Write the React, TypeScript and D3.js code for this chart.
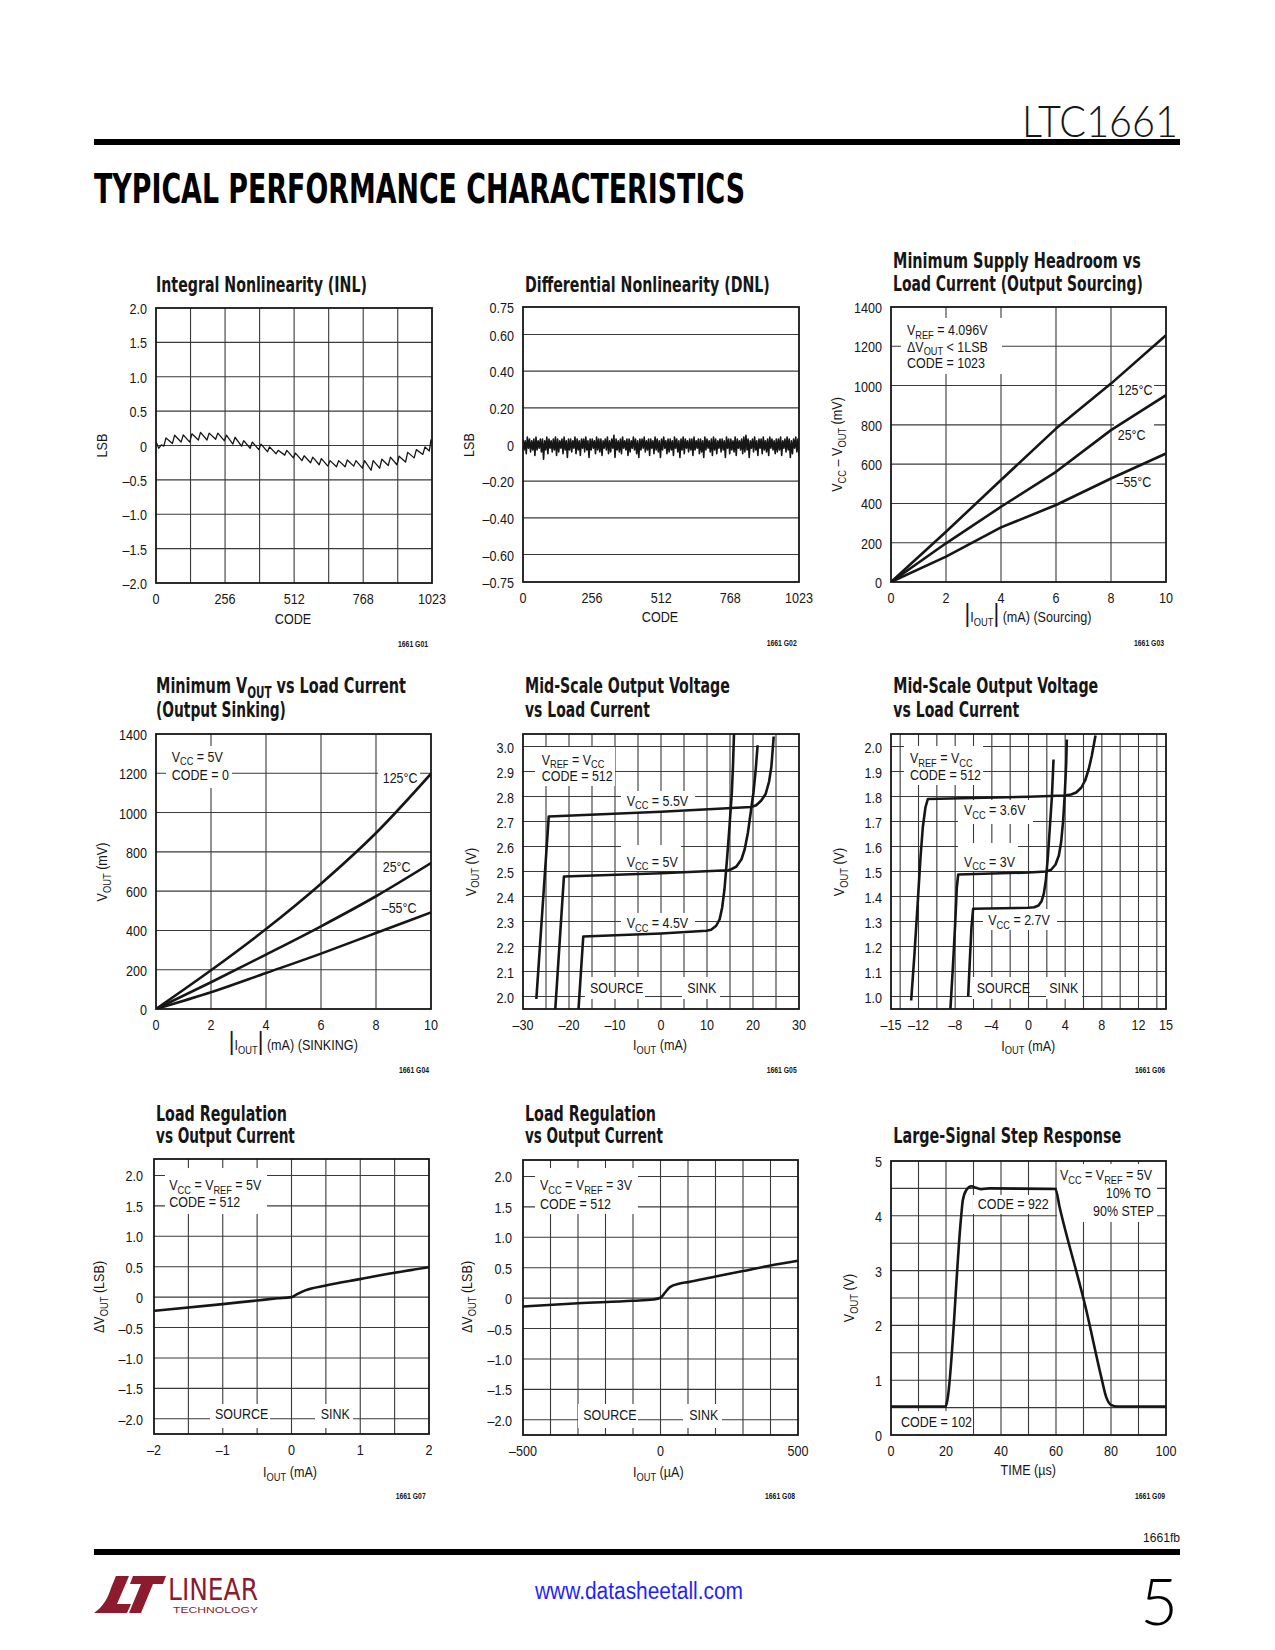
import React from "react";
import * as d3 from "d3";

const FONT = "'Liberation Sans',Arial,sans-serif";
const TITLE_FONT = "'Liberation Sans Narrow','DejaVu Sans Condensed','Liberation Sans',sans-serif";
const INK = "#161616";
const GRID = "#3a3a3a";
const LOGO = "#8c1b2e";
const SX_TICK = 0.84;
const SX_NOTE = 0.86;

type Pt = [number, number];

// ---------------- DATA ----------------
// G01 INL
const inlCode = [0,4,10,20,29,37,61,69,93,101,125,133,157,165,189,197,221,229,253,261,285,293,317,325,349,357,381,389,413,421,445,453,477,485,509,517,541,549,573,581,605,613,637,645,669,677,701,709,733,741,765,773,797,805,829,837,861,869,893,901,925,933,957,965,989,997,1013,1019,1023];
const inlLsb = [0.05,0.02,-0.04,0.01,-0.01,0.11,0.03,0.15,0.05,0.155,0.05,0.17,0.08,0.19,0.08,0.18,0.09,0.18,0.07,0.15,0.02,0.12,-0.01,0.07,-0.04,0.05,-0.06,0.02,-0.09,-0.02,-0.12,-0.07,-0.14,-0.07,-0.18,-0.11,-0.22,-0.15,-0.25,-0.17,-0.28,-0.19,-0.30,-0.22,-0.31,-0.22,-0.31,-0.21,-0.30,-0.22,-0.33,-0.22,-0.36,-0.22,-0.33,-0.20,-0.29,-0.17,-0.28,-0.155,-0.24,-0.10,-0.18,-0.06,-0.13,-0.02,-0.08,0.08,0.04];

// G02 DNL (upper and lower excursions of the noise band, left to right)
const dnlHigh = [
0.03,0.02,0.04,0.03,0.02,0.03,0.04,0.02,0.03,0.03,0.02,0.04,0.03,0.02,0.03,0.04,
0.03,0.02,0.03,0.04,0.02,0.03,0.03,0.02,0.04,0.03,0.02,0.03,0.03,0.04,0.02,0.03,
0.03,0.02,0.04,0.03,0.03,0.02,0.03,0.04,0.02,0.03,0.05,0.03,0.02,0.03,0.04,0.02,
0.03,0.03,0.02,0.04,0.03,0.02,0.03,0.03,0.04,0.02,0.03,0.03,0.02,0.04,0.03,0.02,
0.03,0.04,0.02,0.03,0.03,0.02,0.04,0.03,0.02,0.03,0.04,0.03,0.02,0.03,0.03,0.04,
0.02,0.03,0.03,0.02,0.04,0.03,0.02,0.03,0.04,0.03,0.02,0.03,0.03,0.02,0.04,0.03,
0.03,0.02,0.04,0.03,0.02,0.03,0.04,0.05,0.03,0.02,0.03,0.04,0.02,0.03,0.03,0.04,
0.02,0.03,0.04,0.03,0.02,0.03,0.03,0.04,0.02,0.03,0.04,0.03,0.02,0.03,0.04,0.03];
const dnlLow = [
-0.03,-0.05,-0.02,-0.04,-0.03,-0.06,-0.03,-0.02,-0.04,-0.08,-0.03,-0.05,-0.02,-0.04,-0.03,-0.06,
-0.04,-0.02,-0.05,-0.03,-0.07,-0.03,-0.04,-0.02,-0.05,-0.03,-0.06,-0.02,-0.04,-0.03,-0.07,-0.03,
-0.02,-0.05,-0.03,-0.04,-0.06,-0.02,-0.03,-0.05,-0.04,-0.02,-0.07,-0.03,-0.04,-0.05,-0.02,-0.03,
-0.06,-0.04,-0.02,-0.03,-0.05,-0.07,-0.03,-0.02,-0.04,-0.03,-0.06,-0.02,-0.05,-0.03,-0.04,-0.07,
-0.03,-0.02,-0.05,-0.04,-0.03,-0.06,-0.02,-0.04,-0.07,-0.03,-0.05,-0.02,-0.04,-0.03,-0.06,-0.03,
-0.02,-0.05,-0.04,-0.07,-0.03,-0.02,-0.04,-0.06,-0.03,-0.05,-0.02,-0.04,-0.03,-0.07,-0.02,-0.05,
-0.03,-0.04,-0.06,-0.02,-0.03,-0.05,-0.04,-0.03,-0.07,-0.02,-0.04,-0.03,-0.06,-0.02,-0.05,-0.03,
-0.04,-0.06,-0.02,-0.03,-0.05,-0.04,-0.03,-0.06,-0.02,-0.04,-0.03,-0.07,-0.05,-0.02,-0.04,-0.06];
const dnlSeq = dnlHigh.flatMap((h, i) => [h, dnlLow[i]]);
const dnlCode = dnlSeq.map((_, i) => (i * 1023) / (dnlSeq.length - 1));

// G03 headroom (sourcing)
const srcIout = [0, 2, 4, 6, 8, 10];
const src125 = [0, 256, 519, 781, 1010, 1256];
const src25 = [0, 197, 383, 561, 773, 951];
const srcM55 = [0, 129, 278, 392, 527, 654];

// G04 min VOUT (sinking)
const snkIout = [0, 2, 4, 6, 8, 10];
const snk125 = [0, 197, 407, 638, 896, 1198];
const snk25 = [0, 136, 277, 421, 574, 743];
const snkM55 = [0, 85, 183, 282, 387, 492];

// G05 mid-scale (IOUT mA, VOUT V)
const mid55: Pt[] = [[-27.1,1.99],[-24.4,2.72],[0,2.739],[19.6,2.758],[20.7,2.765],[21.8,2.784],[22.75,2.81],[23.5,2.86],[24.0,2.92],[24.5,3.04]];
const mid50: Pt[] = [[-23.05,1.93],[-21.1,2.48],[0,2.493],[14.6,2.505],[15.3,2.509],[16.4,2.52],[17.5,2.549],[18.2,2.589],[18.9,2.656],[19.6,2.749],[20.1,2.816],[20.6,2.909],[21.0,3.005]];
const mid45: Pt[] = [[-18.0,1.93],[-16.9,2.24],[0,2.252],[9.9,2.263],[10.9,2.267],[12.0,2.283],[12.75,2.309],[13.3,2.356],[13.8,2.429],[14.35,2.549],[14.9,2.683],[15.4,2.816],[15.65,2.923],[15.95,3.1]];

// G06 mid-scale low supply
const mid36: Pt[] = [[-12.8,0.984],[-12.44,1.17],[-12.07,1.384],[-11.78,1.557],[-11.53,1.677],[-11.24,1.757],[-10.98,1.79],[0,1.799],[3.9,1.804],[4.65,1.808],[5.2,1.816],[5.75,1.835],[6.18,1.864],[6.58,1.911],[6.91,1.964],[7.31,2.044]];
const mid30: Pt[] = [[-8.55,0.93],[-8.25,1.117],[-8.0,1.29],[-7.82,1.437],[-7.67,1.488],[0,1.496],[1.93,1.5],[2.47,1.507],[2.95,1.528],[3.31,1.564],[3.56,1.617],[3.78,1.704],[3.96,1.811],[4.11,1.931],[4.18,2.028]];
const mid27: Pt[] = [[-6.58,1.0],[-6.4,1.144],[-6.22,1.277],[-6.04,1.351],[0,1.355],[0.62,1.357],[1.09,1.364],[1.42,1.381],[1.67,1.411],[1.89,1.464],[2.11,1.557],[2.33,1.677],[2.55,1.797],[2.73,1.948]];

// G07 / G08 load regulation
const reg5: Pt[] = [[-2,-0.225],[-1,-0.115],[-0.5,-0.055],[-0.2,-0.02],[0,0],[0.07,0.04],[0.2,0.11],[0.5,0.19],[1.0,0.296],[1.5,0.4],[2.0,0.49]];
const reg3: Pt[] = [[-500,-0.137],[-300,-0.085],[-100,-0.044],[-27,-0.022],[0,0.005],[16,0.088],[34,0.18],[70,0.24],[100,0.263],[200,0.356],[300,0.444],[400,0.537],[500,0.614]];

// G09 step response (µs, V)
const stepResp: Pt[] = [[0,0.52],[19.9,0.52],[20.5,0.64],[25.5,3.98],[26.1,4.28],[27.4,4.47],[29.2,4.54],[31.0,4.51],[32.8,4.485],[35.8,4.5],[59.8,4.49],[61.3,4.16],[71.0,2.28],[76.4,1.07],[78.2,0.7],[80.0,0.55],[82.4,0.52],[100,0.52]];

// tick values / labels
const codeTicks = [0, 256, 512, 768, 1023];
const codeLabels = ["0", "256", "512", "768", "1023"];
const inlYTicks = [2, 1.5, 1, 0.5, 0, -0.5, -1, -1.5, -2];
const inlYLabels = ["2.0", "1.5", "1.0", "0.5", "0", "–0.5", "–1.0", "–1.5", "–2.0"];
const dnlYTicks = [0.75, 0.6, 0.4, 0.2, 0, -0.2, -0.4, -0.6, -0.75];
const dnlYLabels = ["0.75", "0.60", "0.40", "0.20", "0", "–0.20", "–0.40", "–0.60", "–0.75"];
const mvTicks = [0, 200, 400, 600, 800, 1000, 1200, 1400];
const mvLabels = ["0", "200", "400", "600", "800", "1000", "1200", "1400"];
const maTicks10 = [0, 2, 4, 6, 8, 10];
const maLabels10 = ["0", "2", "4", "6", "8", "10"];
const midHiY = [2.0, 2.1, 2.2, 2.3, 2.4, 2.5, 2.6, 2.7, 2.8, 2.9, 3.0];
const midHiYLabels = ["2.0", "2.1", "2.2", "2.3", "2.4", "2.5", "2.6", "2.7", "2.8", "2.9", "3.0"];
const midHiX = [-30, -20, -10, 0, 10, 20, 30];
const midHiXLabels = ["–30", "–20", "–10", "0", "10", "20", "30"];
const midHiXGrid = [-25, -20, -15, -10, -5, 0, 5, 10, 15, 20, 25];
const midLoY = [1.0, 1.1, 1.2, 1.3, 1.4, 1.5, 1.6, 1.7, 1.8, 1.9, 2.0];
const midLoYLabels = ["1.0", "1.1", "1.2", "1.3", "1.4", "1.5", "1.6", "1.7", "1.8", "1.9", "2.0"];
const midLoX = [-15, -12, -8, -4, 0, 4, 8, 12, 15];
const midLoXLabels = ["–15", "–12", "–8", "–4", "0", "4", "8", "12", "15"];
const midLoXGrid = [-14, -12, -10, -8, -6, -4, -2, 0, 2, 4, 6, 8, 10, 12, 14];
const regYTicks = [2, 1.5, 1, 0.5, 0, -0.5, -1, -1.5, -2];
const regYLabels = ["2.0", "1.5", "1.0", "0.5", "0", "–0.5", "–1.0", "–1.5", "–2.0"];
const reg5X = [-2, -1, 0, 1, 2];
const reg5XLabels = ["–2", "–1", "0", "1", "2"];
const reg3X = [-500, 0, 500];
const reg3XLabels = ["–500", "0", "500"];
const stepX = [0, 20, 40, 60, 80, 100];
const stepXLabels = ["0", "20", "40", "60", "80", "100"];
const stepY = [0, 1, 2, 3, 4, 5];
const stepYLabels = ["0", "1", "2", "3", "4", "5"];

const zip = (a: number[], b: number[]): Pt[] => a.map((v, i) => [v, b[i]]);

// split "V_{OUT} text" markup into tspans
function spans(text: string, size: number, subScale: number, shiftFrac: number, barScale = 1.75) {
  const parts = text.split(/(_\{[^}]*\}|\|)/).filter((p: string) => p !== "");
  let shifted = false;
  const sh = size * shiftFrac;
  return parts.map((p: string, i: number) => {
    if (p.startsWith("_{")) {
      const el = (
        <tspan key={i} dy={shifted ? 0 : sh} fontSize={size * subScale}>
          {p.slice(2, -1)}
        </tspan>
      );
      shifted = true;
      return el;
    }
    const dy = shifted ? -sh : 0;
    shifted = false;
    if (p === "|")
      return (
        <tspan key={i} dy={dy} fontSize={size * barScale} fontWeight={300}>
          |
        </tspan>
      );
    return (
      <tspan key={i} dy={dy}>
        {p}
      </tspan>
    );
  });
}

function Rich({ x = 0, y = 0, text, size = 15, anchor = "start", transform, sx = SX_TICK, weight = 400 }: any) {
  const base = transform || `translate(${x},${y})`;
  return (
    <g transform={`${base} scale(${sx},1)`}>
      <text x={0} y={0} fontSize={size} textAnchor={anchor} fontFamily={FONT} fill={INK} fontWeight={weight}>
        {spans(text, size, 0.74, 0.26)}
      </text>
    </g>
  );
}

// bold chart title, squeezed horizontally to the measured reference width
function FitTitle({ x, y, len, text }: any) {
  const ref = React.useRef<SVGTextElement>(null);
  const [s, setS] = React.useState(0.78);
  React.useLayoutEffect(() => {
    if (ref.current) {
      const w = ref.current.getComputedTextLength();
      if (w > 0) setS(len / w);
    }
  }, [len, text]);
  return (
    <text ref={ref} transform={`translate(${x},${y}) scale(${s},1)`} fontSize={21} fontWeight={700} fontFamily={TITLE_FONT} fill={INK}>
      {spans(text, 21, 0.72, 0.2)}
    </text>
  );
}

function Label({ x, y, text, anchor }: any) {
  return (
    <text transform={`translate(${x},${y}) scale(${SX_TICK},1)`} textAnchor={anchor} fontSize={15} fontFamily={FONT} fill={INK}>
      {text}
    </text>
  );
}

interface Cfg {
  key: string;
  left: number; top: number; w: number; h: number;
  xDomain: [number, number]; yDomain: [number, number];
  xGrid: number[]; yGrid: number[];
  xTickVals: number[]; xTickLabels: string[];
  yTickVals: number[]; yTickLabels: string[];
  yGap: number;
  xTitle: string; xTitlePos: [number, number];
  yTitle: string; yTitlePos: [number, number];
  titles: { x: number; y: number; t: string; len: number }[];
  fig: string; figPos: [number, number];
  series: { pts: Pt[]; width: number; curve?: any }[];
  masks: [number, number, number, number][];
  notes: { x: number; y: number; t: string; anchor?: string }[];
}

function Chart({ c }: { c: Cfg }) {
  const x = d3.scaleLinear().domain(c.xDomain).range([c.left, c.left + c.w]);
  const y = d3.scaleLinear().domain(c.yDomain).range([c.top + c.h, c.top]);
  const clip = "clip-" + c.key;
  return (
    <g>
      <defs>
        <clipPath id={clip}>
          <rect x={c.left} y={c.top} width={c.w} height={c.h} />
        </clipPath>
      </defs>
      <g stroke={GRID} strokeWidth={1.1}>
        {c.xGrid.map((v) => (
          <line key={"gx" + v} x1={x(v)} x2={x(v)} y1={c.top} y2={c.top + c.h} />
        ))}
        {c.yGrid.map((v) => (
          <line key={"gy" + v} x1={c.left} x2={c.left + c.w} y1={y(v)} y2={y(v)} />
        ))}
      </g>
      {c.masks.map((m, i) => (
        <rect key={"m" + i} x={m[0]} y={m[1]} width={m[2]} height={m[3]} fill="#fff" />
      ))}
      <g clipPath={`url(#${clip})`}>
        {c.series.map((s, i) => {
          const gen = d3
            .line<Pt>()
            .x((d) => x(d[0]))
            .y((d) => y(d[1]))
            .curve(s.curve || d3.curveLinear);
          return (
            <path key={i} d={gen(s.pts) || ""} fill="none" stroke={INK} strokeWidth={s.width} strokeLinejoin="round" strokeLinecap="butt" />
          );
        })}
      </g>
      <rect x={c.left} y={c.top} width={c.w} height={c.h} fill="none" stroke={INK} strokeWidth={1.8} />
      {c.yTickVals.map((v, i) => (
        <Label key={"yt" + i} x={c.left - c.yGap} y={y(v) + 6} anchor="end" text={c.yTickLabels[i]} />
      ))}
      {c.xTickVals.map((v, i) => (
        <Label key={"xt" + i} x={x(v)} y={c.top + c.h + 20.5} anchor="middle" text={c.xTickLabels[i]} />
      ))}
      <Rich x={c.xTitlePos[0]} y={c.xTitlePos[1]} text={c.xTitle} anchor="middle" />
      <Rich text={c.yTitle} anchor="middle" transform={`translate(${c.yTitlePos[0] + 5.5},${c.yTitlePos[1]}) rotate(-90)`} />
      {c.titles.map((t, i) => (
        <FitTitle key={"t" + i} x={t.x} y={t.y} len={t.len} text={t.t} />
      ))}
      {c.notes.map((n, i) => (
        <Rich key={"n" + i} x={n.x} y={n.y} text={n.t} size={14.5} sx={SX_NOTE} anchor={n.anchor || "start"} />
      ))}
      <text x={c.figPos[0]} y={c.figPos[1]} textAnchor="end" fontSize={9} fontWeight={700} fontFamily={FONT} fill={INK} textLength={30} lengthAdjust="spacingAndGlyphs">
        {c.fig}
      </text>
    </g>
  );
}

const C1: Cfg = {
  key: "g1", left: 156, top: 308, w: 276, h: 275,
  xDomain: [0, 1023], yDomain: [-2, 2],
  xGrid: [128, 256, 384, 512, 640, 768, 896], yGrid: [-1.5, -1, -0.5, 0, 0.5, 1, 1.5],
  xTickVals: codeTicks, xTickLabels: codeLabels, yTickVals: inlYTicks, yTickLabels: inlYLabels, yGap: 9,
  xTitle: "CODE", xTitlePos: [293, 623.5], yTitle: "LSB", yTitlePos: [101.7, 445.5],
  titles: [{ x: 156, y: 292, t: "Integral Nonlinearity (INL)", len: 211 }],
  fig: "1661 G01", figPos: [428, 646.5],
  series: [{ pts: zip(inlCode, inlLsb), width: 1.3 }],
  masks: [], notes: [],
};

const C2: Cfg = {
  key: "g2", left: 523, top: 307, w: 276, h: 275,
  xDomain: [0, 1023], yDomain: [-0.75, 0.75],
  xGrid: [], yGrid: [-0.6, -0.4, -0.2, 0, 0.2, 0.4, 0.6],
  xTickVals: codeTicks, xTickLabels: codeLabels, yTickVals: dnlYTicks, yTickLabels: dnlYLabels, yGap: 9,
  xTitle: "CODE", xTitlePos: [660, 622], yTitle: "LSB", yTitlePos: [468.3, 445],
  titles: [{ x: 525, y: 291.5, t: "Differential Nonlinearity (DNL)", len: 245 }],
  fig: "1661 G02", figPos: [796.7, 645.7],
  series: [{ pts: zip(dnlCode, dnlSeq), width: 1.6 }],
  masks: [], notes: [],
};

const C3: Cfg = {
  key: "g3", left: 891, top: 307, w: 275, h: 275,
  xDomain: [0, 10], yDomain: [0, 1400],
  xGrid: [2, 4, 6, 8], yGrid: [200, 400, 600, 800, 1000, 1200],
  xTickVals: maTicks10, xTickLabels: maLabels10, yTickVals: mvTicks, yTickLabels: mvLabels, yGap: 9,
  xTitle: "|I_{OUT}| (mA) (Sourcing)", xTitlePos: [1028, 621.7], yTitle: "V_{CC} – V_{OUT} (mV)", yTitlePos: [836.7, 444.5],
  titles: [
    { x: 893, y: 268.3, t: "Minimum Supply Headroom vs", len: 248 },
    { x: 893, y: 290.7, t: "Load Current (Output Sourcing)", len: 250 },
  ],
  fig: "1661 G03", figPos: [1164, 645.7],
  series: [
    { pts: zip(srcIout, src125), width: 2.6 },
    { pts: zip(srcIout, src25), width: 2.6 },
    { pts: zip(srcIout, srcM55), width: 2.6 },
  ],
  masks: [[901, 318, 101, 56], [1114, 381, 40, 18], [1114, 422, 40, 20]],
  notes: [
    { x: 907, y: 335, t: "V_{REF} = 4.096V" },
    { x: 907, y: 351.5, t: "ΔV_{OUT} < 1LSB" },
    { x: 907, y: 368, t: "CODE = 1023" },
    { x: 1117.7, y: 395, t: "125°C" },
    { x: 1117.7, y: 440, t: "25°C" },
    { x: 1116.5, y: 486.7, t: "–55°C" },
  ],
};

const C4: Cfg = {
  key: "g4", left: 156, top: 734, w: 275, h: 275,
  xDomain: [0, 10], yDomain: [0, 1400],
  xGrid: [2, 4, 6, 8], yGrid: [200, 400, 600, 800, 1000, 1200],
  xTickVals: maTicks10, xTickLabels: maLabels10, yTickVals: mvTicks, yTickLabels: mvLabels, yGap: 9,
  xTitle: "|I_{OUT}| (mA) (SINKING)", xTitlePos: [293.3, 1050], yTitle: "V_{OUT} (mV)", yTitlePos: [101.7, 872],
  titles: [
    { x: 156, y: 693.3, t: "Minimum V_{OUT} vs Load Current", len: 250 },
    { x: 156, y: 717.3, t: "(Output Sinking)", len: 130 },
  ],
  fig: "1661 G04", figPos: [429, 1073],
  series: [
    { pts: zip(snkIout, snk125), width: 2.6, curve: d3.curveMonotoneX },
    { pts: zip(snkIout, snk25), width: 2.6, curve: d3.curveMonotoneX },
    { pts: zip(snkIout, snkM55), width: 2.6, curve: d3.curveMonotoneX },
  ],
  masks: [[166, 746, 66, 42], [378, 769, 42, 18]],
  notes: [
    { x: 171.7, y: 761.7, t: "V_{CC} = 5V" },
    { x: 171.7, y: 780, t: "CODE = 0" },
    { x: 382.7, y: 783.3, t: "125°C" },
    { x: 382.7, y: 871.7, t: "25°C" },
    { x: 381.7, y: 913.3, t: "–55°C" },
  ],
};

const C5: Cfg = {
  key: "g5", left: 523, top: 734, w: 276, h: 275,
  xDomain: [-30, 30], yDomain: [1.95, 3.05],
  xGrid: midHiXGrid, yGrid: midHiY,
  xTickVals: midHiX, xTickLabels: midHiXLabels, yTickVals: midHiY, yTickLabels: midHiYLabels, yGap: 9,
  xTitle: "I_{OUT} (mA)", xTitlePos: [660, 1050], yTitle: "V_{OUT} (V)", yTitlePos: [470, 872],
  titles: [
    { x: 525, y: 693.3, t: "Mid-Scale Output Voltage", len: 205 },
    { x: 525, y: 716.7, t: "vs Load Current", len: 125 },
  ],
  fig: "1661 G05", figPos: [796.7, 1073],
  series: [
    { pts: mid55, width: 2.6 },
    { pts: mid50, width: 2.6 },
    { pts: mid45, width: 2.6 },
  ],
  masks: [[535, 747, 80, 39], [621, 791, 74, 21], [621, 845, 60, 26], [621, 913, 74, 21], [585, 977, 60, 22], [682, 977, 38, 22]],
  notes: [
    { x: 541.7, y: 764.5, t: "V_{REF} = V_{CC}" },
    { x: 541.7, y: 781, t: "CODE = 512" },
    { x: 626.7, y: 805.7, t: "V_{CC} = 5.5V" },
    { x: 626.7, y: 866.7, t: "V_{CC} = 5V" },
    { x: 626.7, y: 928.3, t: "V_{CC} = 4.5V" },
    { x: 590, y: 993.3, t: "SOURCE" },
    { x: 687.3, y: 993.3, t: "SINK" },
  ],
};

const C6: Cfg = {
  key: "g6", left: 891, top: 734, w: 275, h: 275,
  xDomain: [-15, 15], yDomain: [0.95, 2.05],
  xGrid: midLoXGrid, yGrid: midLoY,
  xTickVals: midLoX, xTickLabels: midLoXLabels, yTickVals: midLoY, yTickLabels: midLoYLabels, yGap: 9,
  xTitle: "I_{OUT} (mA)", xTitlePos: [1028.3, 1050.5], yTitle: "V_{OUT} (V)", yTitlePos: [838.3, 872],
  titles: [
    { x: 893.3, y: 693.3, t: "Mid-Scale Output Voltage", len: 205 },
    { x: 893.3, y: 716.7, t: "vs Load Current", len: 126 },
  ],
  fig: "1661 G06", figPos: [1165, 1072.7],
  series: [
    { pts: mid36, width: 2.6 },
    { pts: mid30, width: 2.6 },
    { pts: mid27, width: 2.6 },
  ],
  masks: [[904, 746, 79, 39], [958, 800, 75, 24], [958, 843, 60, 28], [983, 909, 74, 21], [972, 977, 56, 22], [1046, 977, 36, 22]],
  notes: [
    { x: 910, y: 763, t: "V_{REF} = V_{CC}" },
    { x: 910, y: 780, t: "CODE = 512" },
    { x: 964, y: 815, t: "V_{CC} = 3.6V" },
    { x: 964, y: 866.7, t: "V_{CC} = 3V" },
    { x: 988.3, y: 925, t: "V_{CC} = 2.7V" },
    { x: 976.7, y: 993.3, t: "SOURCE" },
    { x: 1049.3, y: 993.3, t: "SINK" },
  ],
};

const C7: Cfg = {
  key: "g7", left: 154, top: 1159, w: 275, h: 275,
  xDomain: [-2, 2], yDomain: [-2.25, 2.27],
  xGrid: [-1.5, -1, -0.5, 0, 0.5, 1, 1.5], yGrid: regYTicks,
  xTickVals: reg5X, xTickLabels: reg5XLabels, yTickVals: regYTicks, yTickLabels: regYLabels, yGap: 11,
  xTitle: "I_{OUT} (mA)", xTitlePos: [290, 1476.7], yTitle: "ΔV_{OUT} (LSB)", yTitlePos: [98.3, 1297],
  titles: [
    { x: 156, y: 1120.7, t: "Load Regulation", len: 131 },
    { x: 156, y: 1143.3, t: "vs Output Current", len: 139 },
  ],
  fig: "1661 G07", figPos: [425.7, 1499.3],
  series: [{ pts: reg5, width: 2.6, curve: d3.curveMonotoneX }],
  masks: [[165, 1168, 102, 46], [210, 1404, 60, 24], [315, 1404, 38, 24]],
  notes: [
    { x: 169.3, y: 1190, t: "V_{CC} = V_{REF} = 5V" },
    { x: 169.3, y: 1207.3, t: "CODE = 512" },
    { x: 215, y: 1419, t: "SOURCE" },
    { x: 320.7, y: 1419, t: "SINK" },
  ],
};

const C8: Cfg = {
  key: "g8", left: 523, top: 1160, w: 275, h: 275,
  xDomain: [-500, 500], yDomain: [-2.25, 2.27],
  xGrid: [-400, -300, -200, -100, 0, 100, 200, 300, 400], yGrid: regYTicks,
  xTickVals: reg3X, xTickLabels: reg3XLabels, yTickVals: regYTicks, yTickLabels: regYLabels, yGap: 11,
  xTitle: "I_{OUT} (µA)", xTitlePos: [658.3, 1476.7], yTitle: "ΔV_{OUT} (LSB)", yTitlePos: [466.7, 1297],
  titles: [
    { x: 525, y: 1120.7, t: "Load Regulation", len: 131 },
    { x: 525, y: 1143.3, t: "vs Output Current", len: 138 },
  ],
  fig: "1661 G08", figPos: [795, 1499.3],
  series: [{ pts: reg3, width: 2.6, curve: d3.curveMonotoneX }],
  masks: [[535, 1168, 103, 46], [578, 1404, 60, 24], [683, 1404, 39, 24]],
  notes: [
    { x: 540, y: 1190, t: "V_{CC} = V_{REF} = 3V" },
    { x: 540, y: 1209, t: "CODE = 512" },
    { x: 583.3, y: 1420, t: "SOURCE" },
    { x: 689.3, y: 1420, t: "SINK" },
  ],
};

const C9: Cfg = {
  key: "g9", left: 891, top: 1161, w: 275, h: 274,
  xDomain: [0, 100], yDomain: [0, 5],
  xGrid: [10, 20, 30, 40, 50, 60, 70, 80, 90], yGrid: [0.5, 1, 1.5, 2, 2.5, 3, 3.5, 4, 4.5],
  xTickVals: stepX, xTickLabels: stepXLabels, yTickVals: stepY, yTickLabels: stepYLabels, yGap: 9,
  xTitle: "TIME (µs)", xTitlePos: [1028.3, 1475], yTitle: "V_{OUT} (V)", yTitlePos: [848.3, 1298],
  titles: [{ x: 893.3, y: 1143.3, t: "Large-Signal Step Response", len: 228 }],
  fig: "1661 G09", figPos: [1165, 1499.3],
  series: [{ pts: stepResp, width: 2.6, curve: d3.curveMonotoneX }],
  masks: [[1057, 1164, 100, 58], [973, 1195, 77, 19], [897, 1411, 76, 23]],
  notes: [
    { x: 1060, y: 1180, t: "V_{CC} = V_{REF} = 5V" },
    { x: 1151, y: 1198.3, t: "10% TO", anchor: "end" },
    { x: 1154, y: 1216, t: "90% STEP", anchor: "end" },
    { x: 977.7, y: 1209, t: "CODE = 922" },
    { x: 901, y: 1426.7, t: "CODE = 102" },
  ],
};

const CHARTS = [C1, C2, C3, C4, C5, C6, C7, C8, C9];

export default function App() {
  return (
    <svg width={1275} height={1650} viewBox="0 0 1275 1650" style={{ position: "absolute", left: 0, top: 0, display: "block" }}>
      <rect x={0} y={0} width={1275} height={1650} fill="#fff" />
      {/* header */}
      <text x={1178} y={137} textAnchor="end" fontSize={44} fontWeight={300} fontFamily="Lato,'Open Sans','Liberation Sans',sans-serif" fill={INK} textLength={156} lengthAdjust="spacingAndGlyphs">
        LTC1661
      </text>
      <rect x={94} y={139} width={1086} height={6} fill="#000" />
      <text x={94} y={203} fontSize={40} fontWeight={900} fontFamily="'DejaVu Sans Condensed','Liberation Sans Narrow',sans-serif" fill="#000" textLength={651} lengthAdjust="spacingAndGlyphs">
        TYPICAL PERFORMANCE CHARACTERISTICS
      </text>

      {CHARTS.map((c) => (
        <Chart key={c.key} c={c} />
      ))}

      {/* footer */}
      <text x={1180} y={1542} textAnchor="end" fontSize={13} fontFamily={FONT} fill={INK} textLength={37} lengthAdjust="spacingAndGlyphs">
        1661fb
      </text>
      <rect x={94} y={1549} width={1086} height={6} fill="#000" />
      <path d="M94,1613 C103,1607 108,1598 111,1588 L116,1576 L129,1576 L117,1604 L131,1604 L127,1613 Z" fill={LOGO} />
      <path d="M133,1576 L166,1576 L163,1584 L153,1584 L141,1613 L129,1613 L141,1584 L130,1584 Z" fill={LOGO} />
      <text x={168} y={1600} fontSize={30} fontFamily={TITLE_FONT} fill={LOGO} textLength={90} lengthAdjust="spacingAndGlyphs">
        LINEAR
      </text>
      <text x={173} y={1613} fontSize={9} fontFamily={FONT} fill={LOGO} textLength={85} lengthAdjust="spacingAndGlyphs">
        TECHNOLOGY
      </text>
      <text x={639} y={1599} textAnchor="middle" fontSize={23} fontFamily={FONT} fill="#1f1fff" textLength={208} lengthAdjust="spacingAndGlyphs">
        www.datasheetall.com
      </text>
      <text x={1178} y={1625} textAnchor="end" fontSize={65} fontWeight={300} fontFamily="Lato,'Open Sans','Liberation Sans',sans-serif" fill="#000">
        5
      </text>
    </svg>
  );
}
